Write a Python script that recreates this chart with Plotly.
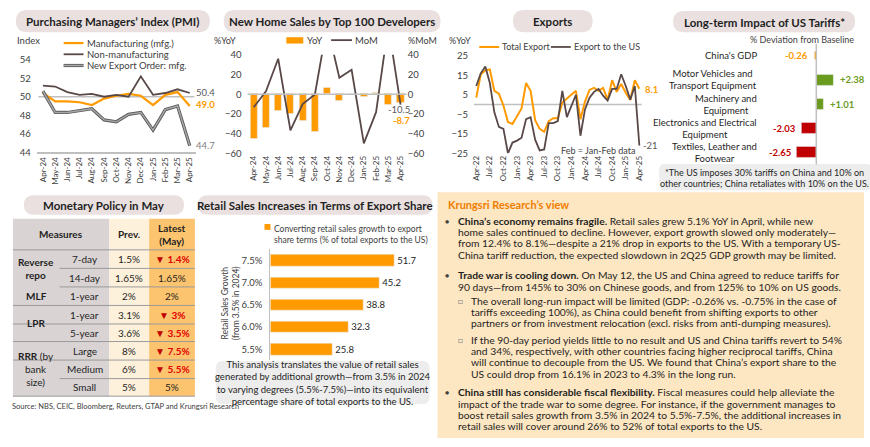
import plotly.graph_objects as go

W, H = 870, 447
def X(px): return px / W
def Y(py): return 1 - py / H

FONT = "Lato"
ORANGE = "#FF9A00"
DARK = "#594848"
GRAY = "#808080"
AXG = "#BFBFBF"
GREEN = "#6B9B1E"
RED = "#C00000"
PILL = "#EAE0E0"
TXT = "#1F1F1F"
TICK = "#404040"

# ---------------- data ----------------
pmi_months = ["Apr-24", "May-24", "Jun-24", "Jul-24", "Aug-24", "Sep-24", "Oct-24",
              "Nov-24", "Dec-24", "Jan-25", "Feb-25", "Mar-25", "Apr-25"]
pmi_mfg = [50.4, 49.5, 49.5, 49.4, 49.1, 49.8, 50.1, 50.3, 50.1, 49.1, 50.2, 50.5, 49.0]
pmi_nonmfg = [51.2, 51.1, 50.5, 50.2, 50.3, 50.0, 50.2, 50.0, 52.2, 50.2, 50.4, 50.8, 50.4]
pmi_export_orders = [50.6, 48.3, 48.3, 48.5, 48.7, 47.5, 47.3, 48.1, 48.3, 46.4, 48.6, 49.0, 44.7]

home_months = pmi_months
home_yoy = [-45.0, -33.7, -17.0, -20.0, -27.0, -38.0, 7.0, -7.0, 0.0, -3.0, 1.0, -11.1, -8.7]
home_mom = [-13.3, 3.0, 36.0, -36.7, -10.0, -0.3, 70.0, 16.7, 24.7, -50.0, -18.3, 70.0, -10.5]

exp_months = ["Apr-22", "May-22", "Jun-22", "Jul-22", "Aug-22", "Sep-22", "Oct-22", "Nov-22", "Dec-22",
              "Jan-23", "Feb-23", "Mar-23", "Apr-23", "May-23", "Jun-23", "Jul-23", "Aug-23", "Sep-23",
              "Oct-23", "Nov-23", "Dec-23", "Jan-24", "Feb-24", "Mar-24", "Apr-24", "May-24", "Jun-24",
              "Jul-24", "Aug-24", "Sep-24", "Oct-24", "Nov-24", "Dec-24", "Jan-25", "Feb-25", "Mar-25",
              "Apr-25"]
exp_ticks = ["Apr-22", "Jul-22", "Oct-22", "Jan-23", "Apr-23", "Jul-23", "Oct-23", "Jan-24",
             "Apr-24", "Jul-24", "Oct-24", "Jan-25", "Apr-25"]
exp_total = [3.5, 15.5, 17.5, 18.0, 7.0, 5.5, -0.5, -9.0, -10.0, -6.0, -2.0, 11.0, 7.0,
             -8.0, -12.5, -14.0, -8.5, -7.0, -7.0, 1.0, 3.0, 5.0, 7.0, -7.5, 1.5, 7.5,
             8.5, 7.0, 8.5, 2.5, 12.5, 6.5, 10.5, 6.0, 2.3, 12.4, 8.1]
exp_us = [9.5, 16.0, 19.5, 11.0, -4.0, -11.5, -12.5, -25.0, -19.5, -18.5, -17.0, -7.5, -6.5,
          -18.0, -23.5, -23.0, -9.5, -9.5, -8.5, 7.0, -6.5, -1.0, 5.0, -16.0, -2.5, 3.5,
          6.5, 8.0, 4.5, 2.0, 8.0, 8.0, 15.5, 9.5, 2.5, 9.5, -21.0]

tariff_labels = ["China's GDP", "Motor Vehicles and<br>Transport Equipment", "Machinery and<br>Equipment",
                 "Electronics and Electrical<br>Equipment", "Textiles, Leather and<br>Footwear"]
tariff_values = [-0.26, 2.38, 1.01, -2.03, -2.65]

retail_growth = ["7.5%", "7.0%", "6.5%", "6.0%", "5.5%"]
retail_share = [51.7, 45.2, 38.8, 32.3, 25.8]

table_groups = ["<b>Reverse<br>repo</b>", "<b>MLF</b>", "<b>LPR</b>", "<b>RRR</b> (by<br>bank<br>size)"]
table_measures = ["7-day", "14-day", "1-year", "1-year", "5-year", "Large", "Medium", "Small"]
table_prev = ["1.5%", "1.65%", "2%", "3.1%", "3.6%", "8%", "6%", "5%"]
table_latest = ["1.4%", "1.65%", "2%", "3%", "3.5%", "7.5%", "5.5%", "5%"]
table_cut = [True, False, False, True, True, True, True, False]

# ---------------- helpers ----------------
shapes = []
anns = []

def ann(px, py, text, size=9.5, color=TXT, xa="left", ya="middle", align="left", angle=0):
    anns.append(dict(x=X(px), y=Y(py), xref="paper", yref="paper", text=text, showarrow=False,
                     xanchor=xa, yanchor=ya, align=align, textangle=angle,
                     font=dict(family=FONT, size=size, color=color)))

def rrect(x0, y0, x1, y1, r, fill):
    a0, a1 = X(x0), X(x1)
    b0, b1 = Y(y0), Y(y1)
    rx, ry = r / W, r / H
    p = (f"M {a0+rx},{b0} L {a1-rx},{b0} Q {a1},{b0} {a1},{b0-ry} "
         f"L {a1},{b1+ry} Q {a1},{b1} {a1-rx},{b1} L {a0+rx},{b1} Q {a0},{b1} {a0},{b1+ry} "
         f"L {a0},{b0-ry} Q {a0},{b0} {a0+rx},{b0} Z")
    shapes.append(dict(type="path", path=p, xref="paper", yref="paper", fillcolor=fill,
                       line=dict(width=0), layer="below"))

def rect(x0, y0, x1, y1, fill):
    shapes.append(dict(type="rect", x0=X(x0), x1=X(x1), y0=Y(y1), y1=Y(y0), xref="paper", yref="paper",
                       fillcolor=fill, line=dict(width=0), layer="below"))

def hline(x0, x1, y, color, width=1):
    shapes.append(dict(type="line", x0=X(x0), x1=X(x1), y0=Y(y), y1=Y(y), xref="paper", yref="paper",
                       line=dict(color=color, width=width)))

def pill(x0, x1, y0, y1, text, size=11.5):
    rrect(x0, y0, x1, y1, (y1 - y0) / 2, PILL)
    ann((x0 + x1) / 2, (y0 + y1) / 2 + 0.5, f"<b>{text}</b>", size=size, color=TXT, xa="center")

fig = go.Figure()

# ---------------- PMI ----------------
fig.add_trace(go.Scatter(x=pmi_months, y=pmi_mfg, mode="lines", line=dict(color=ORANGE, width=2.2),
                         xaxis="x", yaxis="y", showlegend=False))
fig.add_trace(go.Scatter(x=pmi_months, y=pmi_nonmfg, mode="lines", line=dict(color=DARK, width=1.8),
                         xaxis="x", yaxis="y", showlegend=False))
fig.add_trace(go.Scatter(x=pmi_months, y=pmi_export_orders, mode="lines", line=dict(color="#5a5a5a", width=3.2),
                         xaxis="x", yaxis="y", showlegend=False))
fig.add_trace(go.Scatter(x=pmi_months, y=pmi_export_orders, mode="lines", line=dict(color="#a8a8a8", width=1.4),
                         xaxis="x", yaxis="y", showlegend=False))
shapes.append(dict(type="line", xref="x domain", yref="y", x0=0.01, x1=0.99, y0=50, y1=50,
                   line=dict(color=AXG, width=1.5), layer="below"))
pill(13, 208, 4, 27, "Purchasing Managers’ Index (PMI)")
ann(12, 35, "Index", 9.5, TICK)
leg_y = [38, 49.5, 61]
hline(61, 81, leg_y[0], ORANGE, 2.2)
hline(61, 81, leg_y[1], DARK, 1.8)
hline(61, 81, leg_y[2], "#5a5a5a", 3.2)
hline(61, 81, leg_y[2], "#a8a8a8", 1.4)
ann(82, leg_y[0], "Manufacturing (mfg.)", 9.5, TICK)
ann(82, leg_y[1], "Non-manufacturing", 9.5, TICK)
ann(82, leg_y[2], "New Export Order: mfg.", 9.5, TICK)
ann(192, 89, f"{pmi_nonmfg[-1]:.1f}", 9.5, "#595959")
ann(192, 101, f"<b>{pmi_mfg[-1]:.1f}</b>", 9.5, ORANGE)
ann(192, 143, f"{pmi_export_orders[-1]:.1f}", 9.5, GRAY)

# ---------------- New home sales ----------------
fig.add_trace(go.Bar(x=home_months, y=home_yoy, marker=dict(color=ORANGE), width=0.58,
                     xaxis="x2", yaxis="y2", showlegend=False))
shapes.append(dict(type="line", xref="x2 domain", yref="y2", x0=0, x1=1, y0=0, y1=0,
                   line=dict(color=AXG, width=1.5)))
fig.add_trace(go.Scatter(x=home_months, y=home_mom, mode="lines", line=dict(color=DARK, width=1.8),
                         xaxis="x2", yaxis="y3", showlegend=False))
pill(222, 440, 4, 27, "New Home Sales by Top 100 Developers")
ann(210, 35, "%YoY", 9, TICK)
ann(405, 35, "%MoM", 9, TICK)
rect(285, 32, 302, 38.5, ORANGE)
ann(304, 35, "YoY", 9.5, TICK)
hline(330, 351, 35, DARK, 1.8)
ann(352, 35, "MoM", 9.5, TICK)
ann(411, 106, f"{home_mom[-1]:.1f}", 9.5, "#595959", xa="right")
ann(411, 117, f"<b>{home_yoy[-1]:.1f}</b>", 9.5, ORANGE, xa="right")

# ---------------- Exports ----------------
fig.add_trace(go.Scatter(x=exp_months, y=exp_total, mode="lines", line=dict(color=ORANGE, width=2),
                         xaxis="x3", yaxis="y4", showlegend=False))
fig.add_trace(go.Scatter(x=exp_months, y=exp_us, mode="lines", line=dict(color=DARK, width=1.8),
                         xaxis="x3", yaxis="y4", showlegend=False))
shapes.append(dict(type="line", xref="x3 domain", yref="y4", x0=0, x1=1, y0=0, y1=0,
                   line=dict(color=AXG, width=1.5), layer="below"))
pill(513, 593, 4, 27, "Exports")
ann(447, 35, "%YoY", 9, TICK)
hline(479, 499, 42, ORANGE, 2)
ann(500, 42, "Total Export", 9, TICK)
hline(551, 571, 42, DARK, 1.8)
ann(572, 42, "Export to the US", 9, TICK)
ann(598, 148, "Feb = Jan-Feb data", 9, TICK, xa="center")
ann(644, 86, f"<b>{exp_total[-1]:.1f}</b>", 9.5, ORANGE)
ann(642, 143, f"{exp_us[-1]:.0f}", 9.5, "#595959")

# ---------------- Tariffs ----------------
tariff_colors = [ORANGE, GREEN, GREEN, RED, RED]
tariff_widths = [0.36, 0.44, 0.44, 0.44, 0.44]
fig.add_trace(go.Bar(y=tariff_labels, x=tariff_values, orientation="h",
                     marker=dict(color=tariff_colors), width=tariff_widths,
                     xaxis="x4", yaxis="y5", showlegend=False))
shapes.append(dict(type="line", xref="x4", yref="y5 domain", x0=0, x1=0, y0=0, y1=1,
                   line=dict(color=AXG, width=1.5)))
for lab, v, c in zip(tariff_labels, tariff_values, tariff_colors):
    anns.append(dict(x=v, xref="x4", y=lab, yref="y5", text=f"<b>{v:+.2f}</b>", showarrow=False,
                     xanchor="left" if v > 0 else "right", xshift=4 if v > 0 else -4,
                     yanchor="middle", font=dict(family=FONT, size=9.5, color=c)))
pill(674, 857, 5, 27, "Long-term Impact of US Tariffs*")
ann(858, 34, "% Deviation from Baseline", 9, TICK, xa="right")
for lab in tariff_labels:
    anns.append(dict(x=X(760), xref="paper", y=lab, yref="y5", text=lab, showarrow=False,
                     xanchor="right", yanchor="middle", align="center",
                     font=dict(family=FONT, size=9.5, color=TXT)))
rrect(660, 162, 874, 189, 6, "#EDEDED")
ann(766, 171, "*The US imposes 30% tariffs on China and 10% on", 9, TXT, xa="center")
ann(766, 181.5, "other countries; China retaliates with 10% on the US.", 9, TXT, xa="center")

# ---------------- Monetary table ----------------
pill(21, 182, 194, 214, "Monetary Policy in May")
c0, c1, c2, c3, c4 = 10, 57, 107, 147, 193
hdr_top, hdr_bot = 218, 250
row_edges = [250, 269, 288, 307, 326, 344, 363, 382, 400]
rect(c0, hdr_top, c2, 400, "#D9D3D3")
rect(c2, hdr_top, c3, 400, "#FEF1DC")
rect(c3, hdr_top, c4, 400, "#FDC46F")
hline(c0, c4, hdr_bot, "#9A9A9A", 1)
for i in range(1, 8):
    yy = row_edges[i]
    hline(c0 if table_cut[i] else c1, c4, yy, "#9A9A9A", 1)
hline(c0, c4, 400, "#9A9A9A", 1)
ann((c0 + c2) / 2, 234, "<b>Measures</b>", 10, TXT, xa="center")
ann((c2 + c3) / 2, 234, "<b>Prev.</b>", 10, TXT, xa="center")
ann((c3 + c4) / 2, 234, "<b>Latest<br>(May)</b>", 10, TXT, xa="center", align="center")
group_centres = [(250 + 288) / 2, (288 + 307) / 2, (307 + 344) / 2, (344 + 400) / 2]
for g, yc in zip(table_groups, group_centres):
    ann((c0 + c1) / 2, yc, g, 10, TXT, xa="center", align="center")
for i in range(8):
    yc = (row_edges[i] + row_edges[i + 1]) / 2
    ann((c1 + c2) / 2, yc, table_measures[i], 10, TXT, xa="center")
    ann((c2 + c3) / 2, yc, table_prev[i], 10, TXT, xa="center")
    if table_latest[i] != table_prev[i]:
        ann((c3 + c4) / 2, yc, f"<span style='color:{RED}'>▼</span> <b>{table_latest[i]}</b>", 10,
            "#E00000", xa="center")
    else:
        ann((c3 + c4) / 2, yc, table_latest[i], 10, TXT, xa="center")
ann(7, 411, "Source: NBS, CEIC, Bloomberg, Reuters, GTAP and Krungsri Research", 7.5, TICK)

# ---------------- Retail sales ----------------
fig.add_trace(go.Bar(y=retail_growth, x=retail_share, orientation="h", marker=dict(color=ORANGE), width=0.52,
                     text=[f"{v:.1f}" for v in retail_share], textposition="outside",
                     textfont=dict(family=FONT, size=9.5, color=TXT), cliponaxis=False,
                     xaxis="x5", yaxis="y6", showlegend=False))
pill(196, 432, 194, 214, "Retail Sales Increases in Terms of Export Share")
rect(263, 223.5, 269, 229.5, ORANGE)
ann(271, 221.5, "Converting retail sales growth to export<br>share terms (% of total exports to the US)",
    8.5, TICK, ya="top")
ann(229, 305, "Retail Sales Growth<br>(from 3.5% in 2024)", 8.5, TICK, xa="center", align="center", angle=-90)
rrect(214, 364, 429, 408, 7, "#EDEDED")
ann(321.5, 386, "This analysis translates the value of retail sales<br>generated by additional growth—from 3.5% in 2024"
    "<br>to varying degrees (5.5%-7.5%)—into its equivalent<br>percentage share of total exports to the US.",
    9.5, TXT, xa="center", align="center")

# ---------------- Krungsri view panel ----------------
rect(437, 191, 866, 443, "#FDE6C2")
ann(446, 203, "<b>Krungsri Research’s view</b>", 11, "#F07D00")
BX, TX, SBX, STX = 447, 456, 460, 469
body = 10.3
lines_b1 = ["<b>China’s economy remains fragile.</b> Retail sales grew 5.1% YoY in April, while new",
            "home sales continued to decline. However, export growth slowed only moderately—",
            "from 12.4% to 8.1%—despite a 21% drop in exports to the US. With a temporary US-",
            "China tariff reduction, the expected slowdown in 2Q25 GDP growth may be limited."]
lines_b2 = ["<b>Trade war is cooling down.</b> On May 12, the US and China agreed to reduce tariffs for",
            "90 days—from 145% to 30% on Chinese goods, and from 125% to 10% on US goods."]
lines_s1 = ["The overall long-run impact will be limited (GDP: -0.26% vs. -0.75% in the case of",
            "tariffs exceeding 100%), as China could benefit from shifting exports to other",
            "partners or from investment relocation (excl. risks from anti-dumping measures)."]
lines_s2 = ["If the 90-day period yields little to no result and US and China tariffs revert to 54%",
            "and 34%, respectively, with other countries facing higher reciprocal tariffs, China",
            "will continue to decouple from the US. We found that China’s export share to the",
            "US could drop from 16.1% in 2023 to 4.3% in the long run."]
lines_b3 = ["<b>China still has considerable fiscal flexibility.</b> Fiscal measures could help alleviate the",
            "impact of the trade war to some degree. For instance, if the government manages to",
            "boost retail sales growth from 3.5% in 2024 to 5.5%-7.5%, the additional increases in",
            "retail sales will cover around 26% to 52% of total exports to the US."]
LH = 11.7
def block(lines, y0, x, bullet, bx, bsize, bcolor):
    ann(bx, y0, bullet, bsize, bcolor, xa="center")
    for k, t in enumerate(lines):
        ann(x, y0 + k * LH, t, body, TXT)
block(lines_b1, 220, TX, "●", BX, 7, "#404040")
block(lines_b2, 276, TX, "●", BX, 7, "#404040")
block(lines_s1, 302, STX, "□", SBX, 8, "#808080")
block(lines_s2, 342, STX, "□", SBX, 8, "#808080")
block(lines_b3, 396, TX, "●", BX, 7, "#404040")

# ---------------- layout ----------------
tickf = dict(family=FONT, size=9.5, color=TICK)
xcat = dict(type="category", showgrid=False, zeroline=False, ticks="", tickangle=-90,
            tickfont=dict(family=FONT, size=8, color=TICK), fixedrange=True)
ybase = dict(showgrid=False, zeroline=False, ticks="", tickfont=tickf, showline=False)

fig.update_layout(
    width=W, height=H, autosize=False, margin=dict(l=0, r=0, t=0, b=0, pad=0),
    paper_bgcolor="white", plot_bgcolor="rgba(0,0,0,0)", showlegend=False, bargap=0,
    font=dict(family=FONT, color=TXT),
    xaxis=dict(xcat, domain=[X(34), X(194)], anchor="y", range=[-0.5, 12.5],
               showline=True, linecolor=AXG, linewidth=1.5),
    yaxis=dict(ybase, domain=[Y(150), Y(45.5)], anchor="x", range=[44, 55],
               tickvals=[44, 46, 48, 50, 52, 54], ticklabelstandoff=5),
    xaxis2=dict(xcat, domain=[X(246), X(406)], anchor="y2", range=[-0.5, 12.5], showline=False),
    yaxis2=dict(ybase, domain=[Y(151), Y(50)], anchor="x2", range=[-60, 40], dtick=20,
                ticklabelstandoff=5),
    yaxis3=dict(ybase, overlaying="y2", side="right", anchor="x2", range=[-60, 40], dtick=20,
                ticklabelstandoff=0),
    xaxis3=dict(xcat, domain=[X(473.7), X(642.3)], anchor="y4", range=[-0.5, 36.5],
                tickvals=exp_ticks, showline=False),
    yaxis4=dict(ybase, domain=[Y(151), Y(51)], anchor="x3", range=[-25, 25],
                tickvals=[-25, -15, -5, 5, 15, 25], ticklabelstandoff=5),
    xaxis4=dict(domain=[X(765), X(868)], anchor="y5", range=[-7.26, 6.85], visible=False),
    yaxis5=dict(domain=[Y(162.4), Y(38.6)], anchor="x4", type="category", range=[4.5, -0.5],
                visible=False),
    xaxis5=dict(domain=[X(269), X(414)], anchor="y6", range=[0, 60], visible=False),
    yaxis6=dict(ybase, domain=[Y(363.4), Y(249.6)], anchor="x5", type="category", range=[4.5, -0.5],
                showline=True, linecolor=AXG, linewidth=1.2, ticklabelstandoff=5),
    shapes=shapes, annotations=anns,
)

fig.write_html("out.html", config={"displayModeBar": False},
               post_script="document.body.style.margin='0';document.body.style.overflow='hidden';")
